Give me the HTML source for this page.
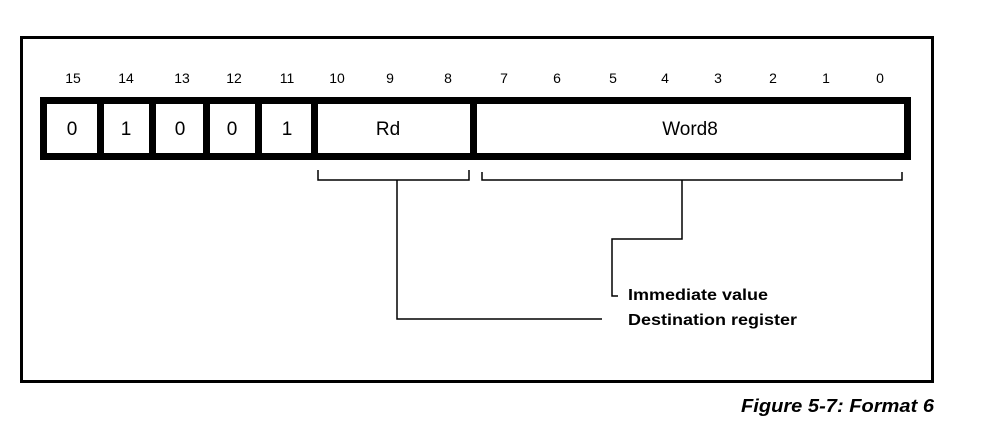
<!DOCTYPE html>
<html><head><style>
body{margin:0;background:#fff;width:999px;height:436px;overflow:hidden}
</style></head><body>
<svg width="999" height="436" xmlns="http://www.w3.org/2000/svg" style="font-family:'Liberation Sans',Arial,sans-serif">
<rect x="21.5" y="37.5" width="911" height="344" fill="none" stroke="#000" stroke-width="3"/>
<g font-size="14" text-anchor="middle" fill="#000">
<text x="73" y="83">15</text><text x="126" y="83">14</text><text x="182" y="83">13</text><text x="234" y="83">12</text><text x="287" y="83">11</text><text x="337" y="83">10</text><text x="390" y="83">9</text><text x="448" y="83">8</text><text x="504" y="83">7</text><text x="557" y="83">6</text><text x="613" y="83">5</text><text x="665" y="83">4</text><text x="718" y="83">3</text><text x="773" y="83">2</text><text x="826" y="83">1</text><text x="880" y="83">0</text>
</g>
<rect x="40" y="97" width="871" height="63" fill="#000"/>
<g fill="#fff">
<rect x="47" y="104" width="50" height="49"/><rect x="104" y="104" width="45" height="49"/><rect x="156" y="104" width="47" height="49"/><rect x="210" y="104" width="45" height="49"/><rect x="262" y="104" width="49" height="49"/><rect x="318" y="104" width="152" height="49"/><rect x="477" y="104" width="427" height="49"/>
</g>
<g font-size="19" text-anchor="middle" fill="#000">
<text x="72" y="135">0</text><text x="126" y="135">1</text><text x="180" y="135">0</text><text x="232" y="135">0</text><text x="287" y="135">1</text><text x="388" y="135">Rd</text><text x="690" y="135">Word8</text>
</g>
<g fill="none" stroke="#000" stroke-width="1.5">
<polyline points="318,170 318,180 469,180 469,170"/>
<polyline points="482,172 482,180 902,180 902,172"/>
<polyline points="397,180 397,319 602,319"/>
<polyline points="682,180 682,239 612,239 612,296 618,296"/>
</g>
<g font-size="16" font-weight="bold" fill="#000">
<text x="628" y="300" textLength="140" lengthAdjust="spacingAndGlyphs">Immediate value</text>
<text x="628" y="325" textLength="169" lengthAdjust="spacingAndGlyphs">Destination register</text>
</g>
<text x="741" y="412" font-size="18" font-weight="bold" font-style="italic" textLength="193" lengthAdjust="spacingAndGlyphs">Figure 5-7: Format 6</text>
</svg>
</body></html>
